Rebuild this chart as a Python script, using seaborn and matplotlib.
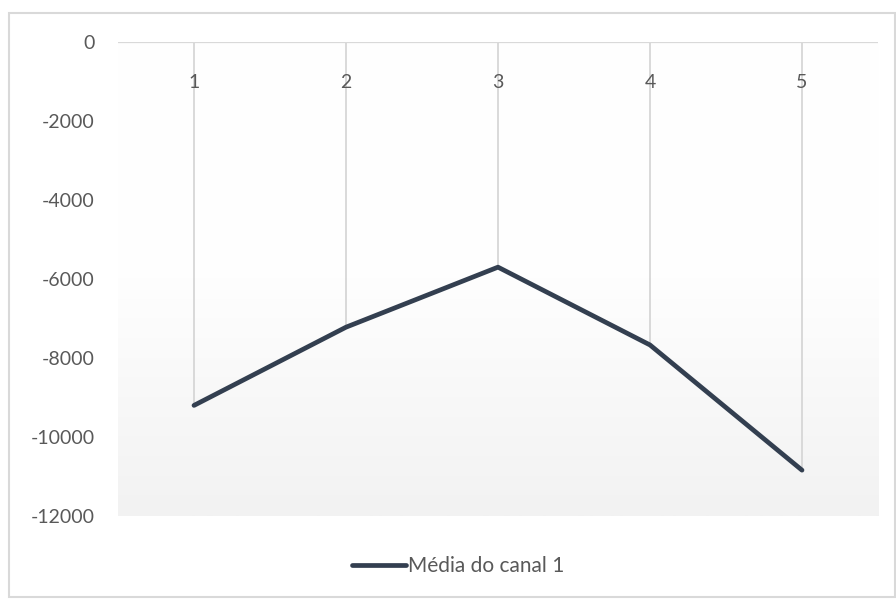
import numpy as np
import pandas as pd
import matplotlib
matplotlib.use("Agg")
import matplotlib.pyplot as plt
import seaborn as sns
from matplotlib.patches import Rectangle
from matplotlib.colors import LinearSegmentedColormap

# data
categorias = [1, 2, 3, 4, 5]
media_canal_1 = [-9200, -7220, -5700, -7670, -10840]
y_ticks = [0, -2000, -4000, -6000, -8000, -10000, -12000]
serie_nome = "Média do canal 1"

df = pd.DataFrame({"canal": categorias, "media": media_canal_1})

sns.set_style("white")
plt.rcParams["font.family"] = ["Lato", "DejaVu Sans"]

W, H = 896, 599
fig = plt.figure(figsize=(W / 100, H / 100), dpi=100)
ax = fig.add_axes([118 / W, 1 - 516 / H, (878 - 118) / W, (516 - 42) / H])

# chart area border
fig.patches.append(Rectangle((9 / W, 1 - 597 / H), (W - 10) / W, (597 - 13) / H,
                             transform=fig.transFigure, fill=False,
                             edgecolor="#d9d9d9", linewidth=1.5))

# plot area gradient (white -> light gray)
cmap = LinearSegmentedColormap.from_list("grad", ["#ffffff", "#fefefe", "#f2f2f2"])
grad = np.linspace(0, 1, 256).reshape(-1, 1)
ax.imshow(grad, aspect="auto", cmap=cmap, extent=[0.5, 5.5, -12000, 0],
          origin="upper", zorder=0)

# drop lines from zero to each point
ax.vlines(df["canal"], df["media"], 0, color="#d9d9d9", linewidth=1.4, zorder=2)
ax.axhline(0, color="#d9d9d9", linewidth=1.6, zorder=2)

sns.lineplot(data=df, x="canal", y="media", ax=ax, color="#333f50",
             linewidth=3.4, label=serie_nome, zorder=4,
             solid_capstyle="round", solid_joinstyle="round")

ax.set_xlim(0.5, 5.5)
ax.set_ylim(-12000, 0)
ax.set_yticks(y_ticks)
ax.set_yticklabels([str(v) for v in y_ticks], fontsize=14, color="#595959")
ax.tick_params(axis="y", length=0, pad=17)
ax.set_xticks([])
ax.set_xlabel("")
ax.set_ylabel("")
for s in ax.spines.values():
    s.set_visible(False)

# category labels just under the zero line
for c in categorias:
    ax.annotate(str(c), xy=(c, 0), xytext=(0, -29), textcoords="offset points",
                ha="center", va="center", fontsize=14, color="#595959", zorder=3)

ax.get_legend().remove()
h, l = ax.get_legend_handles_labels()
leg = fig.legend(h, l, loc="center left", bbox_to_anchor=(352 / W, 1 - 566 / H),
                 frameon=False, fontsize=15, handlelength=2.6, handletextpad=0.1,
                 labelcolor="#595959", borderpad=0, borderaxespad=0)

fig.savefig("out.png", dpi=100)
